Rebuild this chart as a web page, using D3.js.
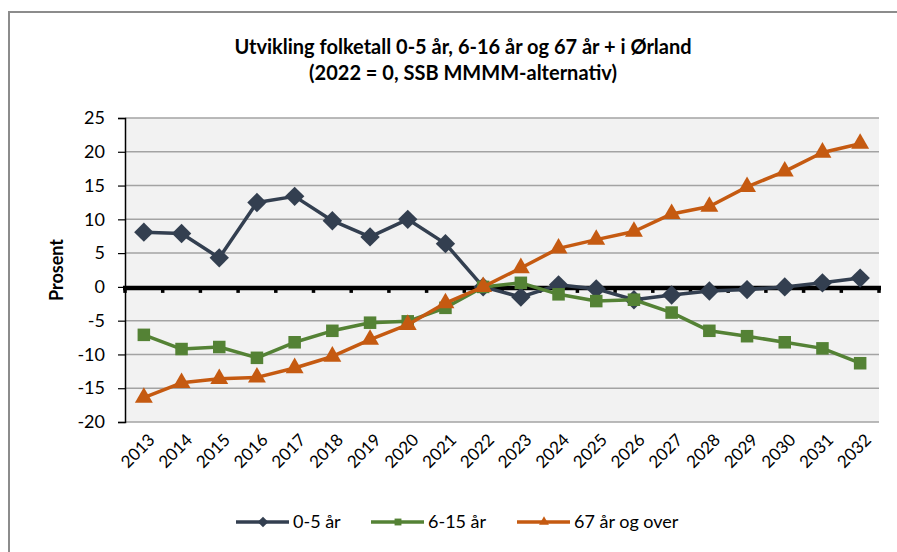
<html>
<head>
<meta charset="utf-8">
<script src="https://d3js.org/d3.v7.min.js"></script>
<style>
  body { margin: 0; background: #fff; }
  text { font-family: Lato, "Noto Sans", sans-serif; fill: #000; }
</style>
</head>
<body>
<svg id="chart" width="897" height="552"></svg>
<script>
// data (% change, 2022 = 0)
var years = [2013,2014,2015,2016,2017,2018,2019,2020,2021,2022,2023,2024,2025,2026,2027,2028,2029,2030,2031,2032];
var age0to5 = [8.1,7.9,4.3,12.5,13.4,9.8,7.4,10.0,6.4,0,-1.5,0.3,-0.3,-1.9,-1.2,-0.6,-0.4,0.0,0.6,1.3];
var age6to15 = [-7.1,-9.2,-8.9,-10.5,-8.2,-6.5,-5.3,-5.1,-3.1,0,0.6,-1.1,-2.1,-1.9,-3.8,-6.5,-7.3,-8.2,-9.1,-11.3];
var age67plus = [-16.4,-14.2,-13.6,-13.4,-12.0,-10.3,-7.8,-5.6,-2.4,0,2.8,5.7,7.0,8.2,10.8,11.9,14.8,17.1,19.9,21.2];
var yTicks = [25,20,15,10,5,0,-5,-10,-15,-20];
var seriesNames = ["0-5 år", "6-15 år", "67 år og over"];

var series = [
  {name: seriesNames[0], values: age0to5, color: "#333f50", shape: "diamond"},
  {name: seriesNames[1], values: age6to15, color: "#548235", shape: "square"},
  {name: seriesNames[2], values: age67plus, color: "#c55a11", shape: "triangle"}
];

var svg = d3.select("#chart");
var plotLeft = 125, plotRight = 879, plotTop = 118, plotBottom = 422;

// outer chart frame
svg.append("rect").attr("x", 9).attr("y", 12).attr("width", 900).attr("height", 600)
  .attr("fill", "none").attr("stroke", "#8c8c8c").attr("stroke-width", 2);

var x = d3.scaleBand().domain(years).range([plotLeft, plotRight]);
var y = d3.scaleLinear().domain([-20, 25]).range([plotBottom, plotTop]);

// plot background
svg.append("rect").attr("x", plotLeft).attr("y", plotTop)
  .attr("width", plotRight - plotLeft).attr("height", plotBottom - plotTop)
  .attr("fill", "#f2f2f2");

// gridlines
svg.append("g").selectAll("line").data(yTicks.filter(function(d) { return d != 0; })).enter().append("line")
  .attr("x1", plotLeft).attr("x2", plotRight)
  .attr("y1", function(d) { return y(d); }).attr("y2", function(d) { return y(d); })
  .attr("stroke", "#a3a3a3").attr("stroke-width", 1.5);

// y axis (plain hyphen for negatives, like the original)
var yAxis = svg.append("g").attr("transform", "translate(" + plotLeft + ",0)")
  .call(d3.axisLeft(y).tickValues(yTicks).tickSize(7).tickPadding(13)
    .tickFormat(function(d) { return String(d); }));
yAxis.select(".domain").attr("stroke", "#000").attr("stroke-width", 1.5);
yAxis.selectAll(".tick line").attr("stroke", "#000").attr("stroke-width", 1.2);
yAxis.selectAll("text").style("font-size", "18px").style("font-family", "Lato, sans-serif").attr("fill", "#000");

// x axis on zero line, ticks between categories
var zeroY = y(0) + 1;
var boundaries = years.map(function(d) { return x(d); }).concat([plotRight]);
svg.append("g").selectAll("line").data(boundaries).enter().append("line")
  .attr("x1", function(d) { return d; }).attr("x2", function(d) { return d; })
  .attr("y1", zeroY).attr("y2", zeroY + 5)
  .attr("stroke", "#000").attr("stroke-width", 3.5);
svg.append("line").attr("x1", plotLeft - 2).attr("x2", plotRight + 2).attr("y1", zeroY).attr("y2", zeroY)
  .attr("stroke", "#000").attr("stroke-width", 4.5);

// year labels along the bottom
svg.append("g").selectAll("text").data(years).enter().append("text")
  .attr("transform", function(d) { return "translate(" + (x(d) + x.bandwidth() / 2 + 12) + "," + (plotBottom + 19) + ") rotate(-45)"; })
  .attr("text-anchor", "end")
  .style("font-size", "17px")
  .text(function(d) { return d; });

// marker shapes
function marker(shape, s) {
  if (shape == "diamond") return d3.symbol().type(d3.symbolDiamond2).size(s * 1.2)();
  if (shape == "square") return d3.symbol().type(d3.symbolSquare2).size(s)();
  return d3.symbol().type(d3.symbolTriangle2).size(s * 1.15)();
}

var line = d3.line()
  .x(function(d, i) { return x(years[i]) + x.bandwidth() / 2; })
  .y(function(d) { return y(d); });

series.forEach(function(s) {
  svg.append("path").datum(s.values).attr("d", line)
    .attr("fill", "none").attr("stroke", s.color).attr("stroke-width", 3.5).attr("stroke-linejoin", "round");
  svg.append("g").selectAll("path").data(s.values).enter().append("path")
    .attr("d", marker(s.shape, 200))
    .attr("transform", function(d, i) { return "translate(" + (x(years[i]) + x.bandwidth() / 2) + "," + y(d) + ")"; })
    .attr("fill", s.color);
});

// titles
svg.append("text").attr("x", 463).attr("y", 54).attr("text-anchor", "middle")
  .style("font-size", "20px").style("font-weight", "bold")
  .text("Utvikling folketall 0-5 år, 6-16 år og 67 år + i Ørland");
svg.append("text").attr("x", 463).attr("y", 80).attr("text-anchor", "middle")
  .style("font-size", "20px").style("font-weight", "bold")
  .text("(2022 = 0, SSB MMMM-alternativ)");
svg.append("text").attr("transform", "translate(63,270) rotate(-90)").attr("text-anchor", "middle")
  .style("font-size", "18px").style("font-weight", "bold").text("Prosent");

// legend
var legendX = [236, 371, 517];
var lg = svg.append("g").selectAll("g").data(series).enter().append("g")
  .attr("transform", function(d, i) { return "translate(" + legendX[i] + ",522)"; });
lg.append("line").attr("x1", 0).attr("x2", 53).attr("y1", 0).attr("y2", 0)
  .attr("stroke", function(d) { return d.color; }).attr("stroke-width", 3.5);
lg.append("path").attr("transform", "translate(27,0)")
  .attr("d", function(d) { return marker(d.shape, 60); })
  .attr("fill", function(d) { return d.color; });
lg.append("text").attr("x", 57).attr("y", 6).style("font-size", "18px")
  .text(function(d) { return d.name; });
</script>
</body>
</html>
